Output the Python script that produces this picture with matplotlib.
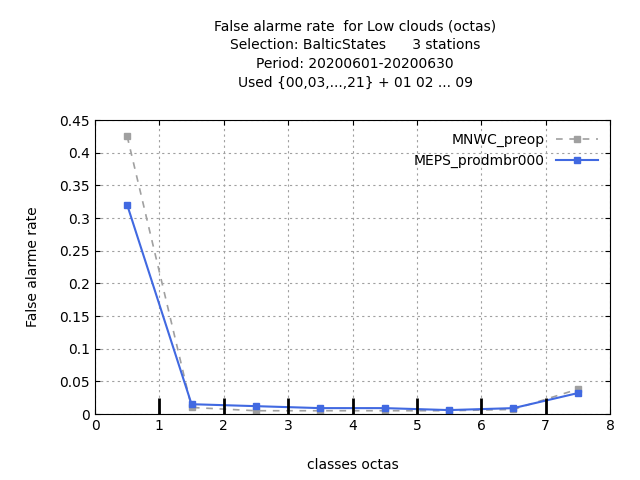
import matplotlib
matplotlib.use("Agg")
import matplotlib.pyplot as plt

x = [0.5, 1.5, 2.5, 3.5, 4.5, 5.5, 6.5, 7.5]
mnwc = [0.425, 0.010, 0.005, 0.005, 0.005, 0.005, 0.007, 0.038]
meps = [0.320, 0.015, 0.012, 0.009, 0.009, 0.006, 0.009, 0.032]
class_marks = [1, 2, 3, 4, 5, 6, 7]

fig = plt.figure(figsize=(6.4, 4.8), dpi=100)
ax = fig.add_axes([95 / 640, 1 - 414 / 480, 515 / 640, 294 / 480])

ax.plot(x, mnwc, color="#a0a0a0", ls=(0, (4, 4)), lw=1.2, marker="s", ms=5,
        label="MNWC_preop")
ax.plot(x, meps, color="#4169e1", lw=1.5, marker="s", ms=5,
        label="MEPS_prodmbr000")
ax.vlines(class_marks, 0, 0.025, color="black", lw=2)

ax.set_xlim(0, 8)
ax.set_ylim(0, 0.45)
ax.set_yticks([0, 0.05, 0.1, 0.15, 0.2, 0.25, 0.3, 0.35, 0.4, 0.45])
ax.set_yticklabels(["0", "0.05", "0.1", "0.15", "0.2", "0.25", "0.3", "0.35", "0.4", "0.45"])
ax.grid(True, color="#a0a0a0", ls=(0, (2, 3)), lw=0.8)
ax.tick_params(direction="in", top=True, right=True, labelsize=10)
ax.set_xlabel("classes octas", fontsize=10, labelpad=18)
ax.set_ylabel("False alarme rate", fontsize=10, labelpad=14)
ax.legend(loc="upper right", frameon=False, fontsize=10, markerfirst=False,
          handlelength=3)

fig.text(0.555, 0.96,
         "False alarme rate  for Low clouds (octas)\n"
         "Selection: BalticStates      3 stations\n"
         "Period: 20200601-20200630\n"
         "Used {00,03,...,21} + 01 02 ... 09",
         ha="center", va="top", fontsize=10, linespacing=1.45)

fig.savefig("out.png", dpi=100)
